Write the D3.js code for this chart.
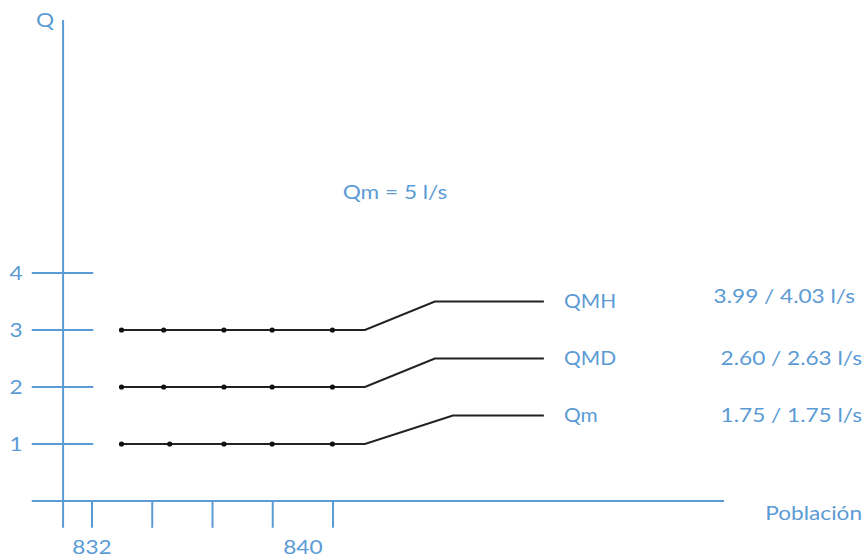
<!DOCTYPE html>
<html><head><meta charset="utf-8">
<script src="https://cdn.jsdelivr.net/npm/d3@7"></script>
<style>body{margin:0;background:#fff}text{font-family:Lato,"Open Sans",sans-serif;fill:#5b9bd5}</style>
</head><body><svg id="c" width="866" height="560"></svg>
<script>
// Data
const yTicks = [1, 2, 3, 4];
const xTickPos = [0, 1, 2, 3, 4];
const xTickLabels = [{pos: 0, text: "832"}, {pos: 3.5, text: "840"}];
const seriesNames = ["QMH", "QMD", "Qm"];
const seriesLevel = [3, 2, 1];
const seriesTarget = [3.5, 2.5, 1.5];
const seriesRampEnd = [5.69, 5.69, 5.99];
const seriesValues = ["3.99 / 4.03 l/s", "2.60 / 2.63 l/s", "1.75 / 1.75 l/s"];
const dotPos = [
  [0.49, 1.19, 2.19, 2.99, 3.99],
  [0.49, 1.19, 2.19, 2.99, 3.99],
  [0.49, 1.29, 2.19, 2.99, 3.99]
];
const flatEnd = 4.53, lineEnd = 7.5;
const title = "Qm = 5 l/s";

const svg = d3.select("#c");
const x = d3.scaleLinear().domain([0, 4]).range([92, 333]);
const y = d3.scaleLinear().domain([0, 4]).range([501, 273]);
const blue = "#5b9bd5";
const FS = 19, SX = 1.19;

function label(px, py, txt, anchor, sx) {
  svg.append("text")
    .attr("transform", `translate(${px},${py}) scale(${sx || SX},1)`)
    .attr("dy", "0.35em").attr("text-anchor", anchor || "start")
    .attr("font-size", FS).text(txt);
}

// axes
const g = svg.append("g").attr("stroke", blue).attr("stroke-width", 2).attr("fill", "none");
g.append("line").attr("x1", x(-0.48)).attr("x2", x(-0.48)).attr("y1", y(8.44)).attr("y2", y(-0.47));
g.append("line").attr("x1", x(-1)).attr("x2", x(10.49)).attr("y1", y(0)).attr("y2", y(0));
g.selectAll(".yt").data(yTicks).join("line")
  .attr("x1", x(-1)).attr("x2", x(0.02)).attr("y1", d => y(d)).attr("y2", d => y(d));
g.selectAll(".xt").data(xTickPos).join("line")
  .attr("x1", d => x(d)).attr("x2", d => x(d)).attr("y1", y(0)).attr("y2", y(-0.47));

yTicks.forEach(d => label(16, y(d), d, "middle"));
xTickLabels.forEach(d => label(x(d.pos), 547, d.text, "middle"));
label(45, 20, "Q", "middle");
label(862, 513, "Población", "end");
label(395, 192, title, "middle");

// series
const line = d3.line().x(d => x(d[0])).y(d => y(d[1]));
seriesNames.forEach((name, i) => {
  const pts = [[dotPos[i][0], seriesLevel[i]], [flatEnd, seriesLevel[i]],
               [seriesRampEnd[i], seriesTarget[i]], [lineEnd, seriesTarget[i]]];
  svg.append("path").attr("d", line(pts)).attr("fill", "none").attr("stroke", "#222").attr("stroke-width", 2);
  svg.selectAll(".d" + i).data(dotPos[i]).join("circle")
    .attr("cx", d => x(d)).attr("cy", y(seriesLevel[i])).attr("r", 2.6).attr("fill", "#111");
  label(564, y(seriesTarget[i]), name, "start", 1.1);
  label(i === 0 ? 855 : 862, y(seriesTarget[i]) - (i === 0 ? 5 : 0), seriesValues[i], "end");
});
</script></body></html>
